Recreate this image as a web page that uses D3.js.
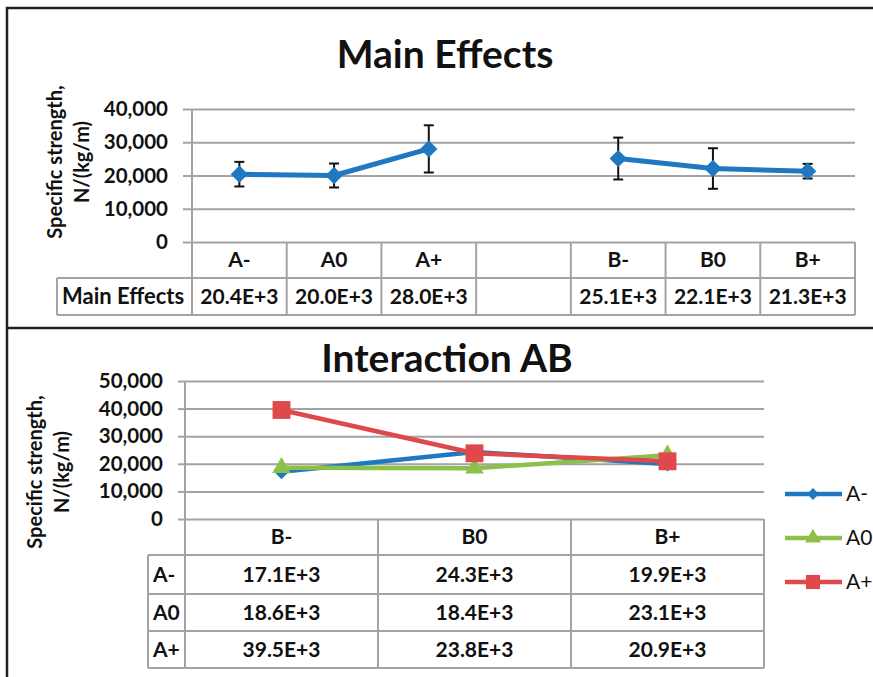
<!DOCTYPE html>
<html>
<head>
<meta charset="utf-8">
<script src="https://d3js.org/d3.v7.min.js"></script>
<style>
body { margin: 0; background: #fff; }
text { font-family: Lato, "Open Sans", sans-serif; fill: #111; }
</style>
</head>
<body>
<div id="viz"></div>
<script>
// main effects
const mainCats = ["A-", "A0", "A+", "", "B-", "B0", "B+"];
const mainValues = [20400, 20000, 28000, null, 25100, 22100, 21300];
const mainErrors = [3700, 3600, 7100, null, 6300, 6100, 2200];
const mainTicks = [0, 10000, 20000, 30000, 40000];

// interaction AB
const abCats = ["B-", "B0", "B+"];
const abSeries = ["A-", "A0", "A+"];
const abAminus = [17100, 24300, 19900];
const abA0 = [18600, 18400, 23100];
const abAplus = [39500, 23800, 20900];
const abTicks = [0, 10000, 20000, 30000, 40000, 50000];

const W = 873, H = 677;
const grid = "#a3a3a3";
const blue = "#1f78c1", green = "#8cc04a", red = "#e0494b";
const fmtE = v => d3.format(".1f")(v / 1000) + "E+3";
const fs = 21;

const svg = d3.select("#viz").append("svg")
    .attr("width", W).attr("height", H)
    .attr("viewBox", [0, 0, W, H]);

// panel frames
svg.append("path")
    .attr("d", `M7,${H} V8 H${W} M7,328 H${W}`)
    .attr("fill", "none").attr("stroke", "#222").attr("stroke-width", 2.5);

function yTitle(g, cx1, cx2, cy) {
    [["Specific strength,", cx1], ["N/(kg/m)", cx2]].forEach(([t, cx]) => {
        g.append("text")
            .attr("transform", `translate(${cx},${cy}) rotate(-90)`)
            .attr("text-anchor", "middle").attr("dy", "0.35em")
            .attr("font-size", 20).attr("font-weight", "bold")
            .text(t);
    });
}

function gridAxis(g, y, ticks, left, right, tickLen) {
    g.append("g")
        .attr("transform", `translate(${left},0)`)
        .call(d3.axisLeft(y).tickValues(ticks).tickSize(tickLen).tickPadding(15)
            .tickFormat(d3.format(",")))
        .call(a => a.select(".domain").remove())
        .call(a => a.selectAll(".tick line").attr("stroke", grid).attr("stroke-width", 2))
        .call(a => a.selectAll(".tick line").clone()
            .attr("x1", 0).attr("x2", right - left))
        .call(a => a.selectAll(".tick text")
            .attr("font-size", 20.5).attr("font-weight", "bold").attr("fill", "#111")
            .attr("font-family", "Lato, sans-serif"));
}

// ---------- Main Effects ----------
const gTop = svg.append("g");
gTop.append("text").attr("x", 445).attr("y", 68).attr("text-anchor", "middle")
    .attr("font-size", 39).attr("font-weight", "bold").text("Main Effects");
yTitle(gTop, 55, 82, 162);

const x1 = d3.scaleBand().domain(mainCats).range([192, 855]);
const y1 = d3.scaleLinear().domain([0, 40000]).range([242, 109]);
gridAxis(gTop, y1, mainTicks, 192, 855, 9);

// table
const t1 = gTop.append("g").attr("stroke", grid).attr("stroke-width", 2).attr("fill", "none");
const hRow = [242, 278, 315];
t1.append("line").attr("x1", 192).attr("x2", 192).attr("y1", y1(40000)).attr("y2", hRow[2]);
mainCats.forEach(c => {
    t1.append("line").attr("x1", x1(c) + x1.bandwidth()).attr("x2", x1(c) + x1.bandwidth())
        .attr("y1", hRow[0]).attr("y2", hRow[2]);
});
t1.append("line").attr("x1", 57).attr("x2", 57).attr("y1", hRow[1]).attr("y2", hRow[2]);
[hRow[1], hRow[2]].forEach(y => t1.append("line").attr("x1", 57).attr("x2", 855).attr("y1", y).attr("y2", y));

gTop.selectAll(".cat").data(mainCats).join("text")
    .attr("x", d => x1(d) + x1.bandwidth() / 2).attr("y", (hRow[0] + hRow[1]) / 2)
    .attr("dy", "0.35em").attr("text-anchor", "middle")
    .attr("font-size", fs).attr("font-weight", "bold").text(d => d);
gTop.append("text").attr("x", 62).attr("y", (hRow[1] + hRow[2]) / 2).attr("dy", "0.35em")
    .attr("font-size", 22).attr("font-weight", "bold").text("Main Effects");
gTop.selectAll(".val").data(mainValues).join("text")
    .attr("x", (d, i) => x1(mainCats[i]) + x1.bandwidth() / 2).attr("y", (hRow[1] + hRow[2]) / 2)
    .attr("dy", "0.35em").attr("text-anchor", "middle")
    .attr("font-size", fs).attr("font-weight", "bold").text(d => d == null ? "" : fmtE(d));

// line + error bars
const cx1 = i => x1(mainCats[i]) + x1.bandwidth() / 2;
gTop.append("path")
    .datum(mainValues)
    .attr("fill", "none").attr("stroke", blue).attr("stroke-width", 5).attr("stroke-linejoin", "round")
    .attr("d", d3.line().defined(d => d != null).x((d, i) => cx1(i)).y(d => y1(d)));
const eb = gTop.append("g").attr("stroke", "#111").attr("stroke-width", 2);
mainValues.forEach((v, i) => {
    if (v == null) return;
    const e = mainErrors[i], x = cx1(i);
    eb.append("line").attr("x1", x).attr("x2", x).attr("y1", y1(v + e)).attr("y2", y1(v - e));
    [v + e, v - e].forEach(yy => eb.append("line").attr("x1", x - 5).attr("x2", x + 5)
        .attr("y1", y1(yy)).attr("y2", y1(yy)));
});
mainValues.forEach((v, i) => {
    if (v == null) return;
    gTop.append("path")
        .attr("d", d3.symbol(d3.symbolSquare, 150)())
        .attr("transform", `translate(${cx1(i)},${y1(v)}) rotate(45)`)
        .attr("fill", blue);
});

// ---------- Interaction AB ----------
const gBot = svg.append("g");
gBot.append("text").attr("x", 447).attr("y", 372).attr("text-anchor", "middle")
    .attr("font-size", 39).attr("font-weight", "bold").text("Interaction AB");
yTitle(gBot, 35, 62, 472);

const x2 = d3.scaleBand().domain(abCats).range([185, 764]);
const y2 = d3.scaleLinear().domain([0, 50000]).range([519, 381]);
gridAxis(gBot, y2, abTicks, 185, 764, 7);

const rows = [519, 555, 594, 631, 668];
const t2 = gBot.append("g").attr("stroke", grid).attr("stroke-width", 2).attr("fill", "none");
t2.append("line").attr("x1", 185).attr("x2", 185).attr("y1", y2(50000)).attr("y2", rows[4]);
abCats.forEach(c => {
    t2.append("line").attr("x1", x2(c) + x2.bandwidth()).attr("x2", x2(c) + x2.bandwidth())
        .attr("y1", rows[0]).attr("y2", rows[4]);
});
t2.append("line").attr("x1", 148).attr("x2", 148).attr("y1", rows[1]).attr("y2", rows[4]);
rows.slice(1).forEach(y => t2.append("line").attr("x1", 148).attr("x2", 764).attr("y1", y).attr("y2", y));

gBot.selectAll(".cat").data(abCats).join("text")
    .attr("x", d => x2(d) + x2.bandwidth() / 2).attr("y", (rows[0] + rows[1]) / 2)
    .attr("dy", "0.35em").attr("text-anchor", "middle")
    .attr("font-size", fs).attr("font-weight", "bold").text(d => d);

const series = [abAminus, abA0, abAplus];
const colors = [blue, green, red];
const symbols = [
    { type: d3.symbolSquare, size: 110, rot: 45 },
    { type: d3.symbolTriangle, size: 150, rot: 0 },
    { type: d3.symbolSquare, size: 320, rot: 0 }
];
series.forEach((vals, s) => {
    const ry = (rows[s + 1] + rows[s + 2]) / 2;
    gBot.append("text").attr("x", 153).attr("y", ry).attr("dy", "0.35em")
        .attr("font-size", fs).attr("font-weight", "bold").text(abSeries[s]);
    vals.forEach((v, i) => gBot.append("text")
        .attr("x", x2(abCats[i]) + x2.bandwidth() / 2).attr("y", ry).attr("dy", "0.35em")
        .attr("text-anchor", "middle").attr("font-size", fs).attr("font-weight", "bold")
        .text(fmtE(v)));
});

const cx2 = i => x2(abCats[i]) + x2.bandwidth() / 2;
series.forEach((vals, s) => {
    gBot.append("path").datum(vals)
        .attr("fill", "none").attr("stroke", colors[s]).attr("stroke-width", 4.5)
        .attr("stroke-linejoin", "round")
        .attr("d", d3.line().x((d, i) => cx2(i)).y(d => y2(d)));
    vals.forEach((v, i) => gBot.append("path")
        .attr("d", d3.symbol(symbols[s].type, symbols[s].size)())
        .attr("transform", `translate(${cx2(i)},${y2(v)}) rotate(${symbols[s].rot})`)
        .attr("fill", colors[s]));
});

// legend
const legY = [494, 538, 582];
const legSize = [70, 110, 200];
abSeries.forEach((name, s) => {
    const g = gBot.append("g").attr("transform", `translate(0,${legY[s]})`);
    g.append("line").attr("x1", 785).attr("x2", 842).attr("stroke", colors[s]).attr("stroke-width", 4.5);
    g.append("path").attr("d", d3.symbol(symbols[s].type, legSize[s])())
        .attr("transform", `translate(813,0) rotate(${symbols[s].rot})`).attr("fill", colors[s]);
    g.append("text").attr("x", 846).attr("dy", "0.35em").attr("font-size", 21).text(name);
});
</script>
</body>
</html>
